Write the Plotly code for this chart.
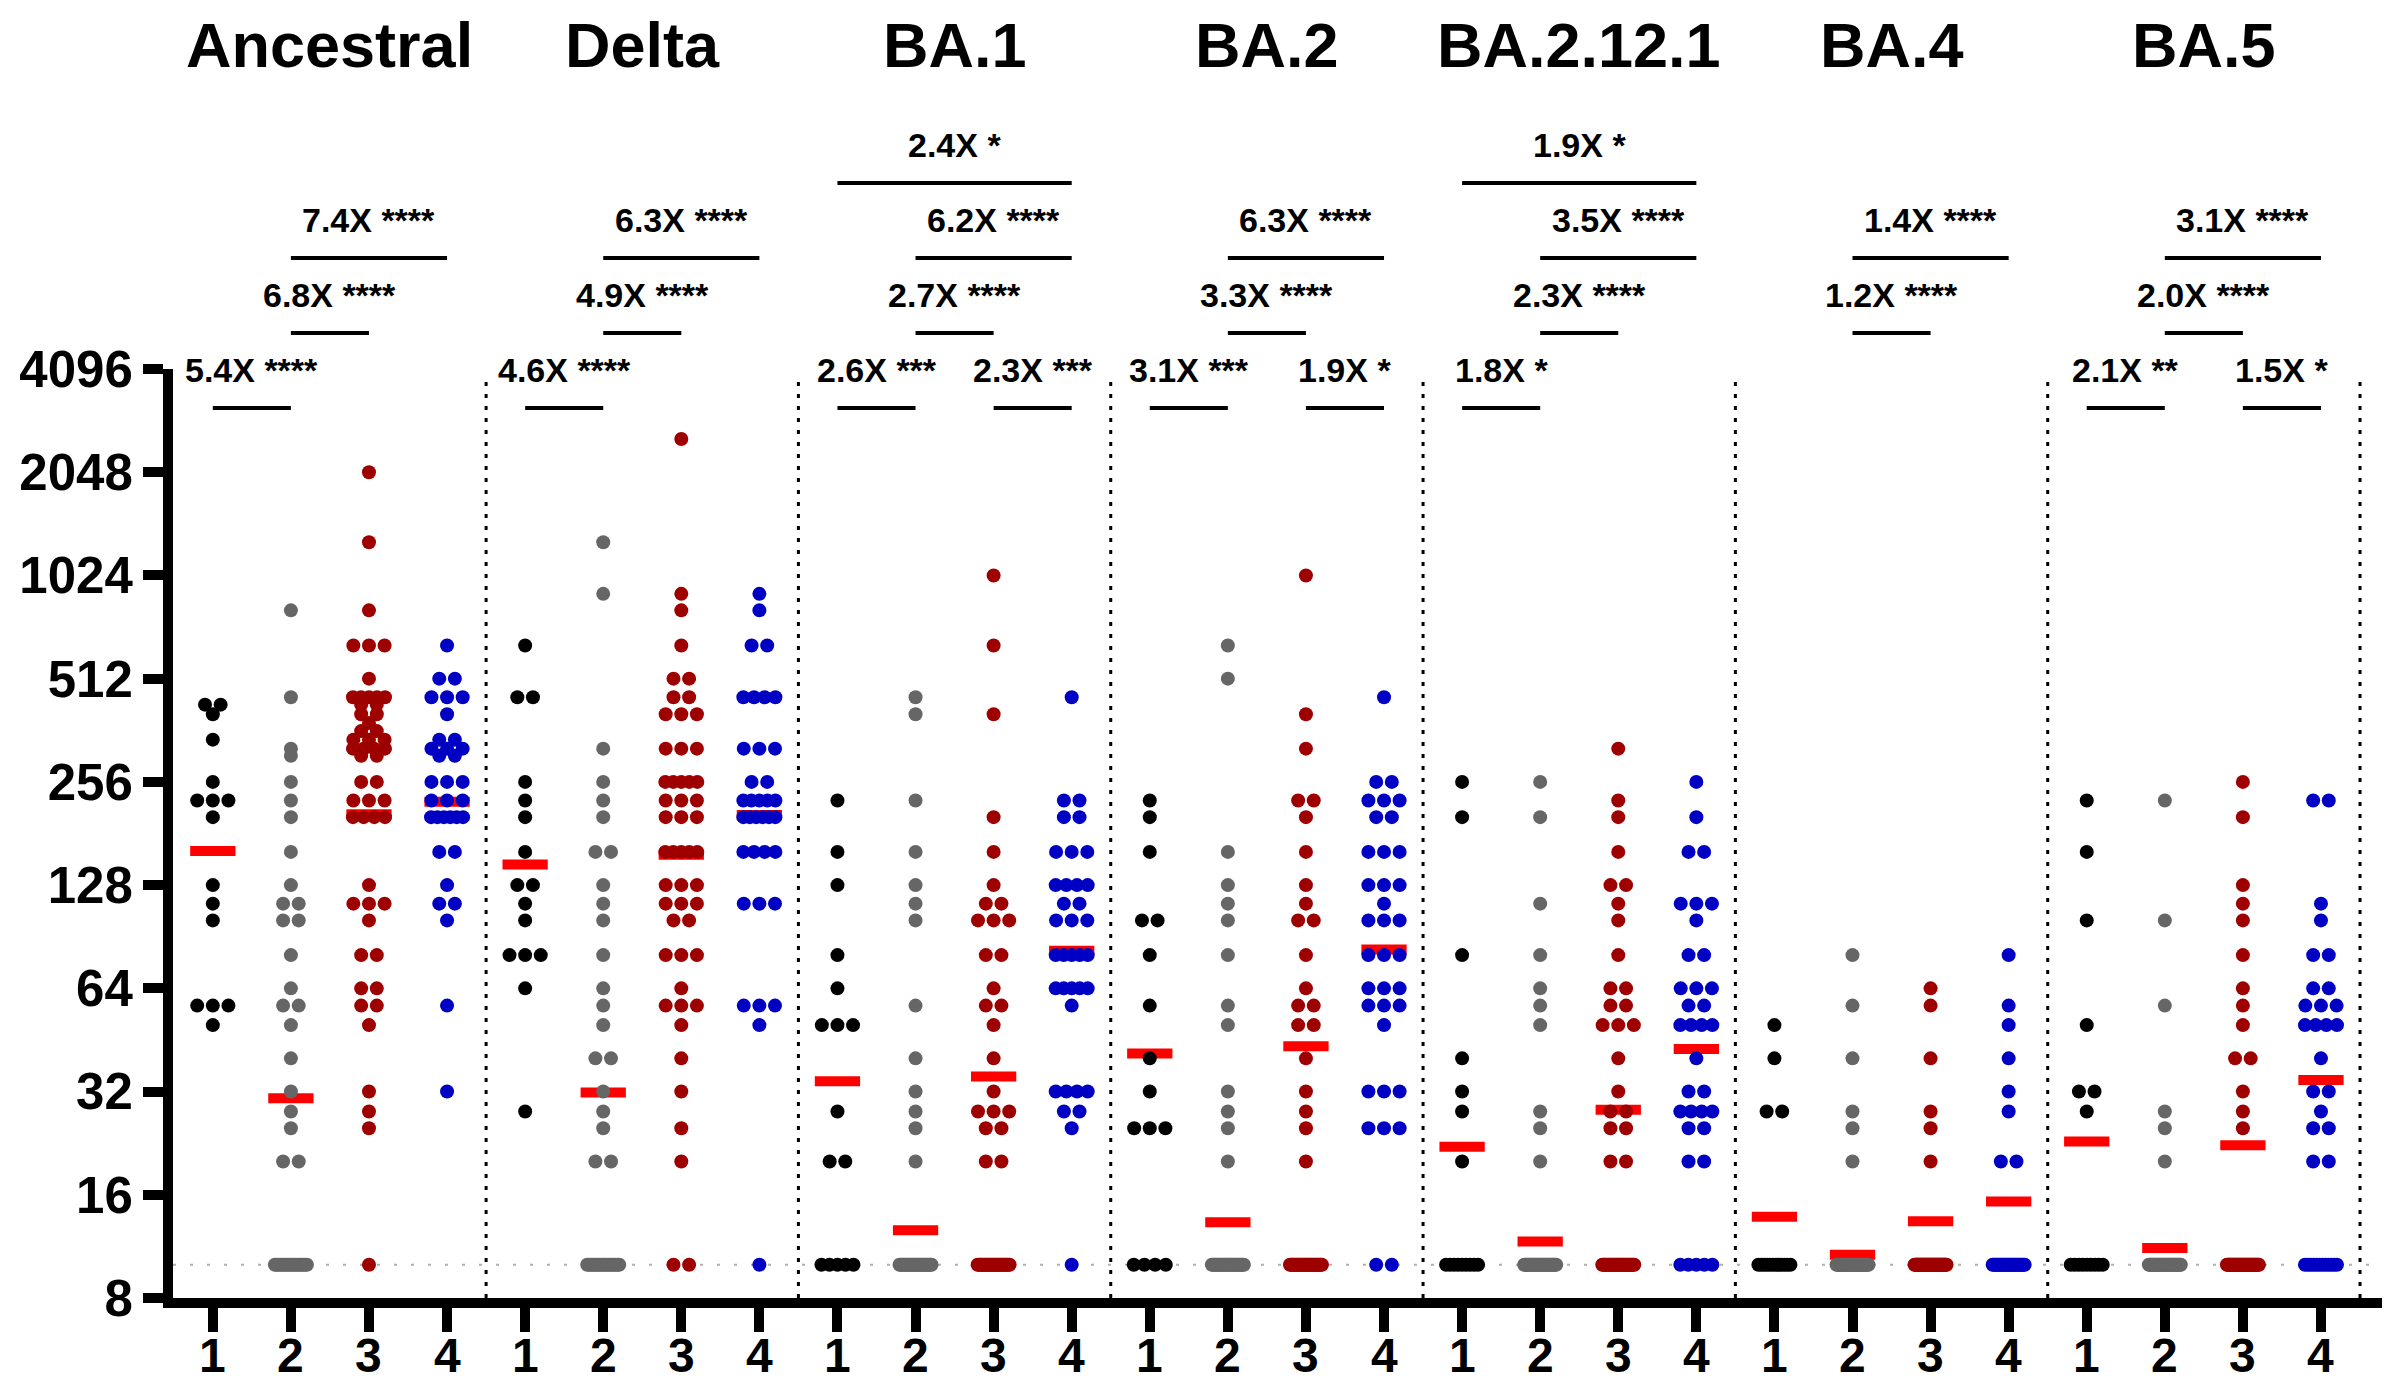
import plotly.graph_objects as go

# ---------------- data ----------------
VARIANTS = ["Ancestral", "Delta", "BA.1", "BA.2", "BA.2.12.1", "BA.4", "BA.5"]
GROUP_LABELS = ["1", "2", "3", "4"]
GROUP_COLORS = ["#000000", "#666666", "#9E0000", "#0000C4"]
Y_TICKS = [8, 16, 32, 64, 128, 256, 512, 1024, 2048, 4096]
LOD = 10

# titers per group as (value, number of dots at that value)
ancestral = [
    [(430, 2), (403, 1), (340, 1), (256, 1), (226, 3), (202, 1), (128, 1), (113, 1), (101, 1), (57, 3), (50, 1)],
    [(810, 1), (452, 1), (320, 1), (305, 1), (256, 1), (226, 1), (202, 1), (160, 1), (128, 1), (113, 2), (101, 2),
     (80, 1), (64, 1), (57, 2), (50, 1), (40, 1), (32, 1), (28, 1), (25, 1), (20, 2), (10, 18)],
    [(2048, 1), (1280, 1), (810, 1), (640, 3), (512, 1), (452, 5), (430, 2), (403, 2), (380, 1), (360, 2), (340, 3),
     (320, 4), (305, 2), (256, 2), (226, 3), (202, 4), (128, 1), (113, 3), (101, 1), (80, 2), (64, 2), (57, 2),
     (50, 1), (32, 1), (28, 1), (25, 1), (10, 1)],
    [(640, 1), (512, 2), (452, 3), (403, 1), (340, 2), (320, 3), (305, 2), (256, 3), (226, 3), (202, 6), (160, 2),
     (128, 1), (113, 2), (101, 1), (57, 1), (32, 1)],
]
delta = [
    [(640, 1), (452, 2), (256, 1), (226, 1), (202, 1), (160, 1), (128, 2), (113, 1), (101, 1), (80, 3), (64, 1), (28, 1)],
    [(1280, 1), (905, 1), (320, 1), (256, 1), (226, 1), (202, 1), (160, 2), (128, 1), (113, 1), (101, 1), (80, 1),
     (64, 1), (57, 1), (50, 1), (40, 2), (32, 1), (28, 1), (25, 1), (20, 2), (10, 19)],
    [(2560, 1), (905, 1), (810, 1), (640, 1), (512, 2), (452, 2), (403, 3), (320, 3), (256, 5), (226, 3), (202, 3),
     (160, 5), (128, 3), (113, 3), (101, 2), (80, 3), (64, 1), (57, 3), (50, 1), (40, 1), (32, 1), (25, 1), (20, 1),
     (10, 2)],
    [(905, 1), (810, 1), (640, 2), (452, 4), (320, 3), (256, 2), (226, 5), (202, 6), (160, 4), (113, 3), (57, 3),
     (50, 1), (10, 1)],
]
ba1 = [
    [(226, 1), (160, 1), (128, 1), (80, 1), (64, 1), (50, 3), (28, 1), (20, 2), (10, 5)],
    [(452, 1), (403, 1), (226, 1), (160, 1), (128, 1), (113, 1), (101, 1), (57, 1), (40, 1), (32, 1), (28, 1),
     (25, 1), (20, 1), (10, 28)],
    [(1024, 1), (640, 1), (403, 1), (202, 1), (160, 1), (128, 1), (113, 2), (101, 3), (80, 2), (64, 1), (57, 2),
     (50, 1), (40, 1), (32, 1), (28, 3), (25, 2), (20, 2), (10, 28)],
    [(452, 1), (226, 2), (202, 2), (160, 3), (128, 4), (113, 2), (101, 3), (80, 5), (64, 5), (57, 1), (32, 4),
     (28, 2), (25, 1), (10, 1)],
]
ba2 = [
    [(226, 1), (202, 1), (160, 1), (101, 2), (80, 1), (57, 1), (40, 1), (32, 1), (25, 3), (10, 4)],
    [(640, 1), (512, 1), (160, 1), (128, 1), (113, 1), (101, 1), (80, 1), (57, 1), (50, 1), (32, 1), (28, 1),
     (25, 1), (20, 1), (10, 28)],
    [(1024, 1), (403, 1), (320, 1), (226, 2), (202, 1), (160, 1), (128, 1), (113, 1), (101, 2), (80, 1), (64, 1),
     (57, 2), (50, 2), (40, 1), (32, 1), (28, 1), (25, 1), (20, 1), (10, 30)],
    [(452, 1), (256, 2), (226, 3), (202, 2), (160, 3), (128, 3), (113, 1), (101, 3), (80, 3), (64, 3), (57, 3),
     (50, 1), (32, 3), (25, 3), (10, 2)],
]
ba2121 = [
    [(256, 1), (202, 1), (80, 1), (40, 1), (32, 1), (28, 1), (20, 1), (10, 9)],
    [(256, 1), (202, 1), (113, 1), (80, 1), (64, 1), (57, 1), (50, 1), (28, 1), (25, 1), (20, 1), (10, 30)],
    [(320, 1), (226, 1), (202, 1), (160, 1), (128, 2), (113, 1), (101, 1), (80, 1), (64, 2), (57, 2), (50, 3),
     (40, 1), (32, 1), (28, 2), (25, 2), (20, 2), (10, 30)],
    [(256, 1), (202, 1), (160, 2), (113, 3), (101, 1), (80, 2), (64, 3), (57, 2), (50, 4), (40, 1), (32, 2),
     (28, 4), (25, 2), (20, 2), (10, 5)],
]
ba4 = [
    [(50, 1), (40, 1), (28, 2), (10, 12)],
    [(80, 1), (57, 1), (40, 1), (28, 1), (25, 1), (20, 1), (10, 34)],
    [(64, 1), (57, 1), (40, 1), (28, 1), (25, 1), (20, 1), (10, 48)],
    [(80, 1), (57, 1), (50, 1), (40, 1), (32, 1), (28, 1), (20, 2), (10, 28)],
]
ba5 = [
    [(226, 1), (160, 1), (101, 1), (50, 1), (32, 2), (28, 1), (10, 9)],
    [(226, 1), (101, 1), (57, 1), (28, 1), (25, 1), (20, 1), (10, 34)],
    [(256, 1), (202, 1), (128, 1), (113, 1), (101, 1), (80, 1), (64, 1), (57, 1), (50, 1), (40, 2), (32, 1),
     (28, 1), (25, 1), (10, 40)],
    [(226, 2), (113, 1), (101, 1), (80, 2), (64, 2), (57, 3), (50, 4), (40, 1), (32, 2), (28, 1), (25, 2),
     (20, 2), (10, 12)],
]

# geometric mean titers (red bars), per group
gmt_ancestral = [161, 30.6, 206, 224]
gmt_delta = [147, 31.8, 157, 205]
gmt_ba1 = [34.3, 12.6, 35.4, 82.4]
gmt_ba2 = [41.3, 13.3, 43.4, 83.1]
gmt_ba2121 = [22.1, 11.7, 28.3, 42.6]
gmt_ba4 = [13.8, 10.7, 13.4, 15.3]
gmt_ba5 = [22.9, 11.2, 22.3, 34.6]

# comparisons: (group from, group to, bracket row, label)
cmp_ancestral = [(1, 2, 0, "5.4X ****"), (2, 3, 1, "6.8X ****"), (2, 4, 2, "7.4X ****")]
cmp_delta = [(1, 2, 0, "4.6X ****"), (2, 3, 1, "4.9X ****"), (2, 4, 2, "6.3X ****")]
cmp_ba1 = [(1, 2, 0, "2.6X ***"), (3, 4, 0, "2.3X ***"), (2, 3, 1, "2.7X ****"), (2, 4, 2, "6.2X ****"),
           (1, 4, 3, "2.4X *")]
cmp_ba2 = [(1, 2, 0, "3.1X ***"), (3, 4, 0, "1.9X *"), (2, 3, 1, "3.3X ****"), (2, 4, 2, "6.3X ****")]
cmp_ba2121 = [(1, 2, 0, "1.8X *"), (2, 3, 1, "2.3X ****"), (2, 4, 2, "3.5X ****"), (1, 4, 3, "1.9X *")]
cmp_ba4 = [(2, 3, 1, "1.2X ****"), (2, 4, 2, "1.4X ****")]
cmp_ba5 = [(1, 2, 0, "2.1X **"), (3, 4, 0, "1.5X *"), (2, 3, 1, "2.0X ****"), (2, 4, 2, "3.1X ****")]

ALL_DATA = [ancestral, delta, ba1, ba2, ba2121, ba4, ba5]
ALL_GMT = [gmt_ancestral, gmt_delta, gmt_ba1, gmt_ba2, gmt_ba2121, gmt_ba4, gmt_ba5]
ALL_CMP = [cmp_ancestral, cmp_delta, cmp_ba1, cmp_ba2, cmp_ba2121, cmp_ba4, cmp_ba5]

# ---------------- layout constants ----------------
W, H = 2390, 1379
M_L, M_R, M_T, M_B = 165, 13, 361, 89
PLOT_H = H - M_T - M_B
X_RANGE = [-0.51, 27.82]
FONT = "Liberation Sans, Arial, Helvetica, sans-serif"
NG = len(GROUP_LABELS)

STEP = 0.2       # horizontal spacing of tied points (category units)
MAX_SPAN = 0.41  # widest spread of a row of tied points
BAR_HALF = 0.29  # half-width of the geometric mean bar


def px_to_paper(ypx):
    return (H - M_B - ypx) / PLOT_H


def swarm(center, tallies):
    xs, ys = [], []
    for value, count in tallies:
        span = min((count - 1) * STEP, MAX_SPAN)
        for i in range(count):
            off = 0.0 if count == 1 else -span / 2 + span * i / (count - 1)
            xs.append(center + off)
            ys.append(value)
    return xs, ys


fig = go.Figure()

# LOD dotted line
fig.add_trace(go.Scatter(
    x=X_RANGE, y=[LOD, LOD], mode="lines",
    line=dict(color="#b0b0b0", width=2, dash="3px,14px"),
    hoverinfo="skip", showlegend=False, cliponaxis=False))

# geometric mean bars (drawn under the dots)
bx, by = [], []
for v, gmts in enumerate(ALL_GMT):
    for g, gm in enumerate(gmts):
        c = v * NG + g
        bx += [c - BAR_HALF, c + BAR_HALF, None]
        by += [gm, gm, None]
fig.add_trace(go.Scatter(x=bx, y=by, mode="lines", line=dict(color="#FF0000", width=10),
                         hoverinfo="skip", showlegend=False, cliponaxis=False))

# dots
for g in range(NG):
    xs, ys = [], []
    for v, groups in enumerate(ALL_DATA):
        gx, gy = swarm(v * NG + g, groups[g])
        xs += gx
        ys += gy
    fig.add_trace(go.Scatter(
        x=xs, y=ys, mode="markers",
        marker=dict(color=GROUP_COLORS[g], size=14, line=dict(width=0)),
        showlegend=False, cliponaxis=False))

shapes = []
annotations = []
# dotted separators
for v in range(len(VARIANTS)):
    xsep = v * NG + NG - 0.5
    shapes.append(dict(type="line", xref="x", yref="paper", x0=xsep, x1=xsep, y0=0, y1=px_to_paper(374),
                       line=dict(color="black", width=3, dash="4px,8px"), layer="below"))

# variant titles
for v, name in enumerate(VARIANTS):
    annotations.append(dict(x=v * NG + (NG - 1) / 2, y=px_to_paper(1), xref="x", yref="paper",
                            text=name, showarrow=False, xanchor="center", yanchor="top", borderpad=0,
                            font=dict(family=FONT, size=63, color="black", weight="bold")))

# x tick labels (group numbers)
for v in range(len(VARIANTS)):
    for g, lab in enumerate(GROUP_LABELS):
        annotations.append(dict(x=v * NG + g, y=px_to_paper(1347), xref="x", yref="paper",
                                text=lab, showarrow=False, xanchor="center", yanchor="middle",
                                font=dict(family=FONT, size=48, color="black", weight="bold")))

# comparison brackets
ROW0_PX, ROW_GAP_PX = 400, 75
for v, cmps in enumerate(ALL_CMP):
    for g0, g1, row, label in cmps:
        ypx = ROW0_PX - ROW_GAP_PX * row
        xa = v * NG + g0 - 1
        xb = v * NG + g1 - 1
        shapes.append(dict(type="line", xref="x", yref="paper", x0=xa, x1=xb,
                           y0=px_to_paper(ypx), y1=px_to_paper(ypx),
                           line=dict(color="black", width=4)))
        annotations.append(dict(x=(xa + xb) / 2, y=px_to_paper(ypx - 38), xref="x", yref="paper",
                                text=label, showarrow=False, xanchor="center", yanchor="middle",
                                font=dict(family=FONT, size=34, color="black", weight="bold")))

fig.update_layout(
    width=W, height=H, autosize=False,
    margin=dict(l=M_L, r=M_R, t=M_T, b=M_B, pad=0, autoexpand=False),
    paper_bgcolor="white", plot_bgcolor="white",
    shapes=shapes, annotations=annotations,
    xaxis=dict(
        range=X_RANGE, tickmode="array", automargin=False,
        tickvals=list(range(len(VARIANTS) * NG)), showticklabels=False,
        showgrid=False, zeroline=False,
        showline=True, linecolor="black", linewidth=10,
        ticks="outside", ticklen=24, tickwidth=10, tickcolor="black",
    ),
    yaxis=dict(
        type="log", range=[0.90309, 3.612360], tickmode="array", automargin=False,
        tickvals=Y_TICKS, ticktext=[str(t) for t in Y_TICKS],
        showgrid=False, zeroline=False,
        showline=True, linecolor="black", linewidth=10,
        ticks="outside", ticklen=20, tickwidth=10, tickcolor="black",
        tickfont=dict(family=FONT, size=51, color="black", weight="bold"),
    ),
)

fig.write_html("out.html")
